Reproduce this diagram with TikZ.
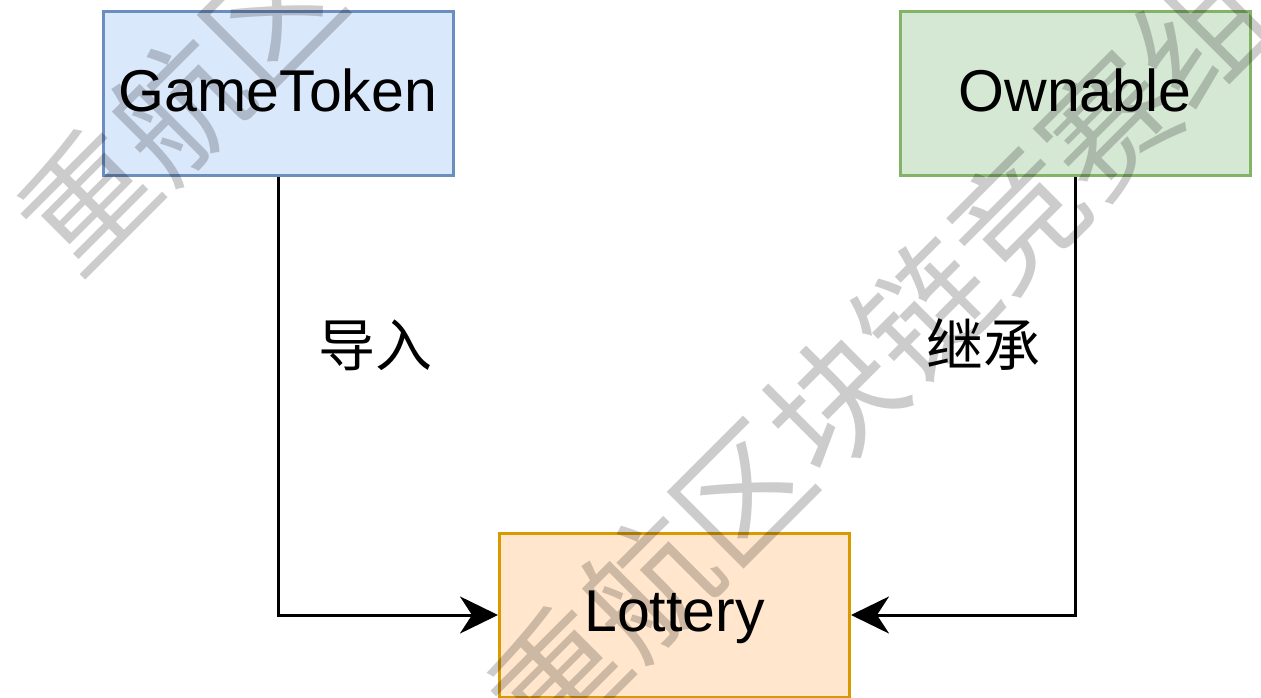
\documentclass[tikz,border=0pt]{standalone}
\usepackage{fontspec}
\setmainfont{Liberation Sans}
\newfontfamily\cjk{Noto Sans CJK SC}
\usetikzlibrary{arrows.meta}
\definecolor{bluefill}{HTML}{DAE8FC}
\definecolor{blueline}{HTML}{6C8EBF}
\definecolor{greenfill}{HTML}{D5E8D4}
\definecolor{greenline}{HTML}{82B366}
\definecolor{orangefill}{HTML}{FFE6CC}
\definecolor{orangeline}{HTML}{D79B00}
\tikzset{
  box/.style={rectangle, minimum width=350pt, minimum height=164pt, line width=3pt,
    inner sep=0pt, text depth=8pt, font=\fontsize{59}{70}\selectfont},
  lbl/.style={inner sep=0pt, font=\cjk\fontsize{57}{68}\selectfont},
  conn/.style={line width=3pt, -{Stealth[length=38pt,width=37pt,inset=12pt]}},
  wm/.style={inner sep=0pt, rotate=45, text=black, text opacity=0.2,
    font=\cjk\fontsize{130}{130}\selectfont}
}
\begin{document}
\begin{tikzpicture}[x=1pt,y=1pt]
\useasboundingbox (0,0) rectangle (1261,697);
\clip (0,0) rectangle (1261,697);
\fill[white] (0,0) rectangle (1261,697);
\node[box, fill=bluefill, draw=blueline] (gt) at (278,603) {GameToken};
\node[box, fill=greenfill, draw=greenline] (own) at (1075,603) {Ownable};
\node[box, fill=orangefill, draw=orangeline] (lot) at (674.5,82) {Lottery};
\node[lbl] (l1) at (375,352) {导入};
\node[lbl] (l2) at (983,353) {继承};
\draw[conn] (gt.south) |- (lot.west);
\draw[conn] (own.south) |- (lot.east);
\node[wm] (wm1) at (409,819) {重航区块链竞赛组};
\node[wm] (wm2) at (879,342) {重航区块链竞赛组};
\end{tikzpicture}
\end{document}
